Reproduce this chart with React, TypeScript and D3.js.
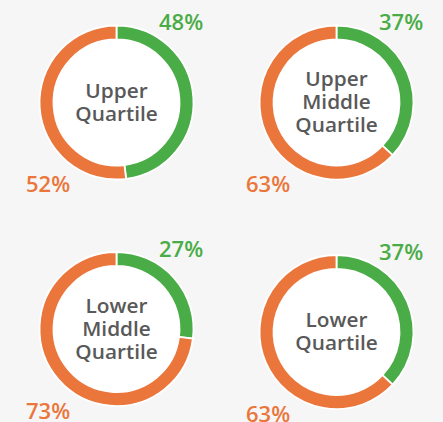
import React from "react";
import * as d3 from "d3";

const categories = [["Upper", "Quartile"], ["Upper", "Middle", "Quartile"], ["Lower", "Middle", "Quartile"], ["Lower", "Quartile"]];
const greenValues = [48, 37, 27, 37];
const orangeValues = [52, 63, 73, 63];

const W = 443;
const H = 422;
const GREEN = "#4aac46";
const ORANGE = "#eb763c";
const TEXT = "#595959";
const BG = "#f6f6f6";
const centers = [[116.5, 102.5], [336.5, 102.5], [116.5, 329], [336.5, 332]];
const R_OUT = 77;
const R_IN = 63;

export default function App() {
  const pie = d3.pie<number>().sort(null).value((d) => d);
  const arc = d3.arc<d3.PieArcDatum<number>>().innerRadius(R_IN).outerRadius(R_OUT);
  const font = "'Open Sans', sans-serif";
  return (
    <svg width={W} height={H} style={{ position: "absolute", left: 0, top: 0, background: BG }}>
      <rect width={W} height={H} fill={BG} />
      {categories.map((lines, i) => {
        const [cx, cy] = centers[i];
        const arcs = pie([greenValues[i], orangeValues[i]]);
        const lh = 23.2;
        const y0 = -((lines.length - 1) * lh) / 2 + 6.7;
        return (
          <g key={i} transform={`translate(${cx},${cy})`}>
            <circle r={R_IN} fill="#ffffff" />
            {arcs.map((a, j) => (
              <path key={j} d={arc(a) || ""} fill={j === 0 ? GREEN : ORANGE} stroke="#ffffff" strokeWidth={1.8} />
            ))}
            {lines.map((t, k) => (
              <text key={k} transform={`translate(0,${y0 + k * lh}) scale(1.04,1)`} textAnchor="middle" fontFamily={font} fontWeight={600} fontSize={20} fill={TEXT}>
                {t}
              </text>
            ))}
            <text x={42.5} y={-72.5} fontFamily={font} fontWeight={600} fontSize={22} fill={GREEN}>
              {greenValues[i]}%
            </text>
            <text x={-90.5} y={89.5} fontFamily={font} fontWeight={600} fontSize={22} fill={ORANGE}>
              {orangeValues[i]}%
            </text>
          </g>
        );
      })}
    </svg>
  );
}
